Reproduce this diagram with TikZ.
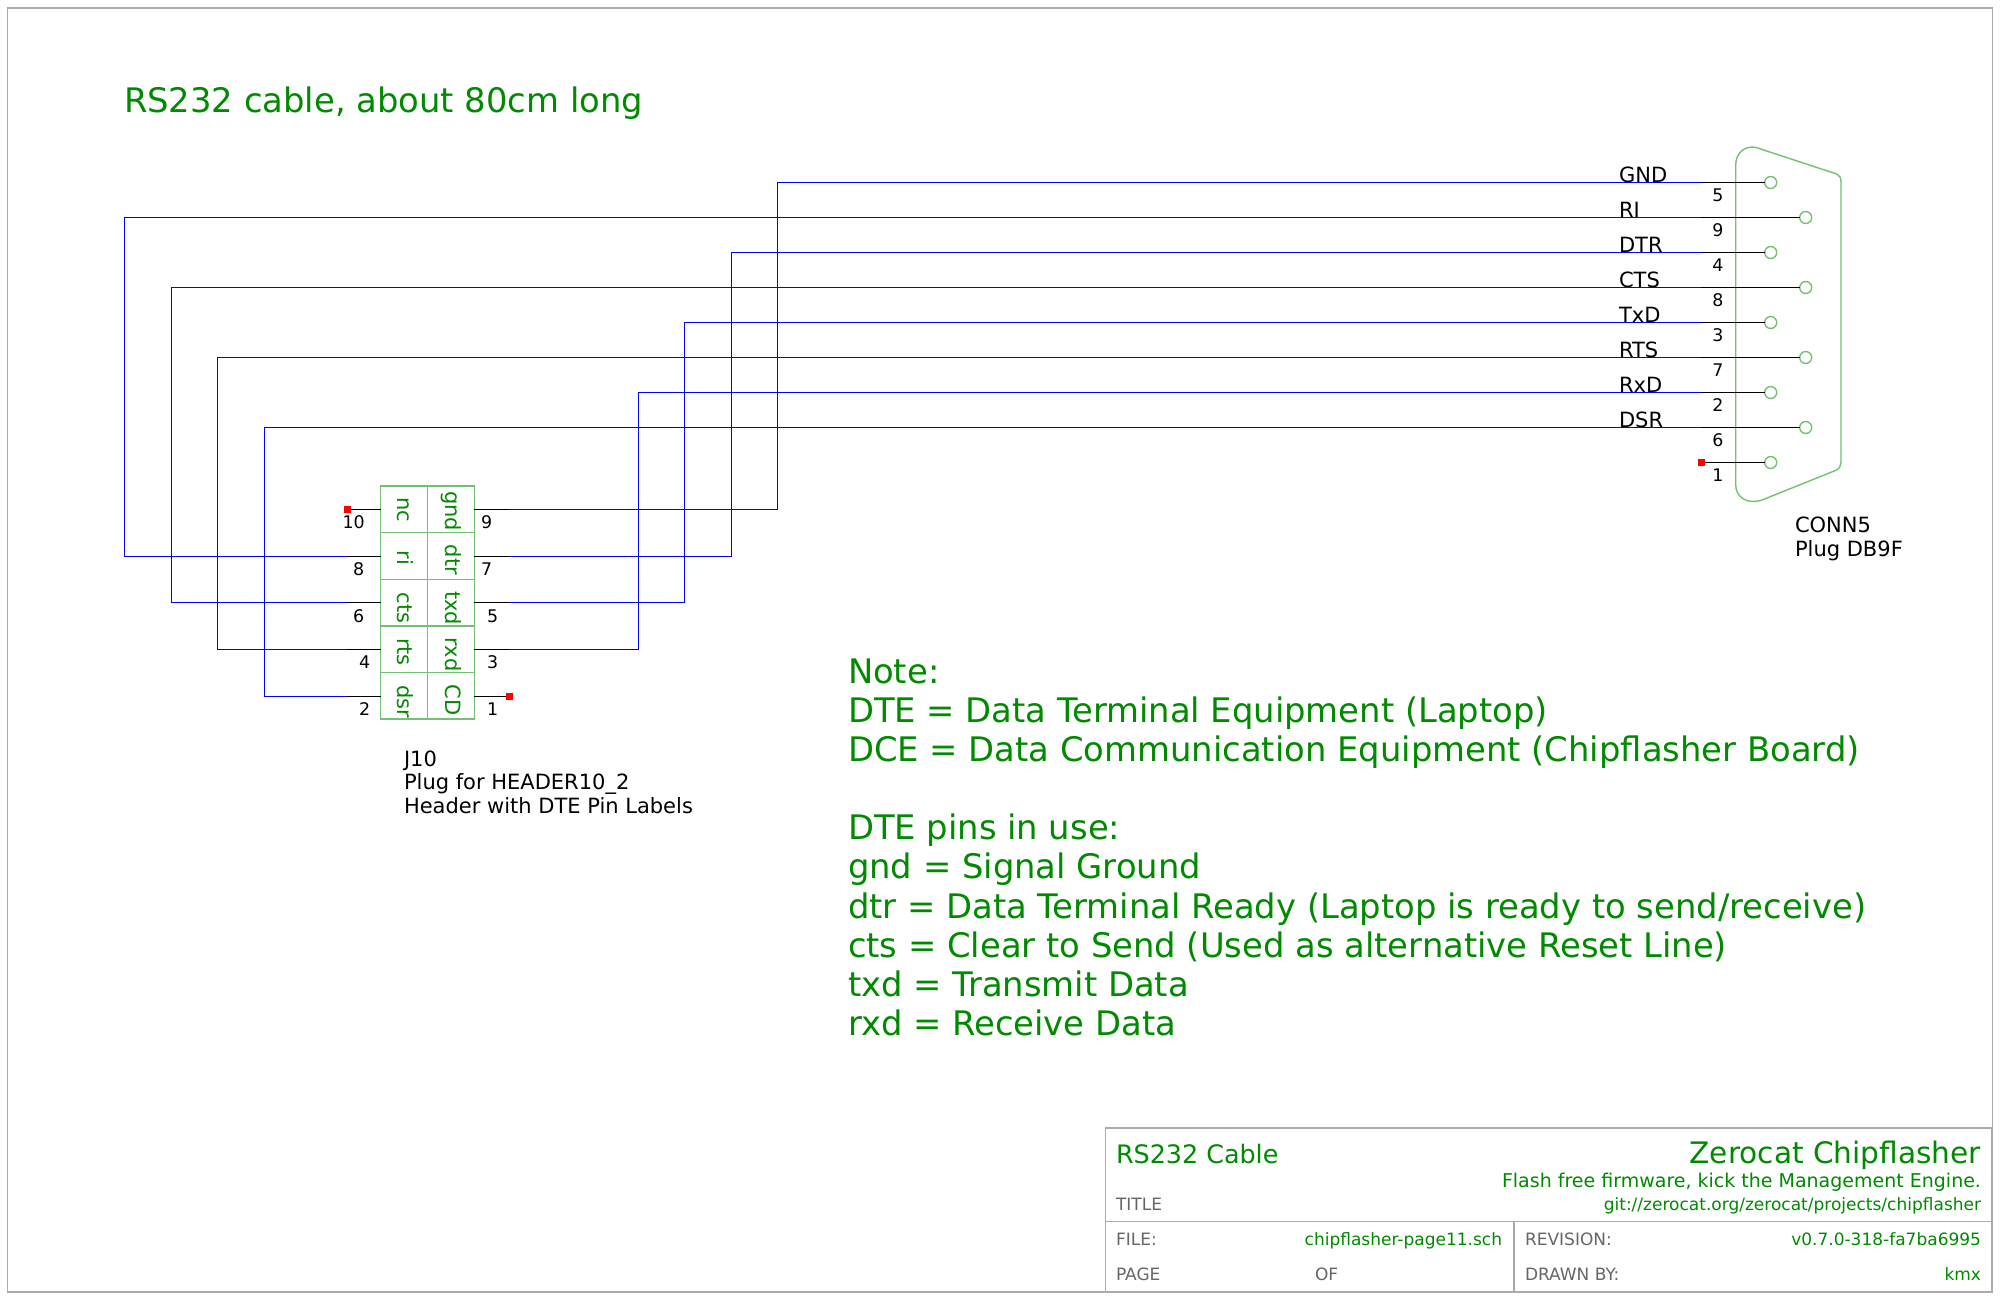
\documentclass[tikz,border=0pt]{standalone}
\usepackage{fontspec}
\setmainfont{DejaVu Sans}
\definecolor{txtgreen}{HTML}{008A00}
\definecolor{symgreen}{HTML}{74C074}
\definecolor{framegray}{HTML}{ABABAB}
\definecolor{tbgray}{HTML}{666666}
\newcommand{\fsz}[1]{\fontsize{#1}{#1}\selectfont}
\tikzset{
  x=1pt,y=-1pt,
  txt/.style={inner sep=0,outer sep=0,anchor=base west},
  wire/.style={draw=blue,line width=1.5pt},
  pinline/.style={draw=black,line width=1.3pt},
  sym/.style={draw=symgreen,line width=1.4pt},
  cell/.style={sym,rectangle,inner sep=0,outer sep=0,minimum width=46.7pt,minimum height=46.6pt},
  hole/.style={sym,circle,inner sep=0,outer sep=0,minimum size=12pt},
  nc/.style={fill=red,inner sep=0,outer sep=0,minimum size=7pt},
  pinnum/.style={txt,font=\fsz{17.4},text=black},
  siglabel/.style={txt,font=\fsz{21},text=black},
  celllabel/.style={inner sep=0,outer sep=0,anchor=base,rotate=-90,font=\fsz{21},text=txtgreen},
  tbline/.style={draw=framegray,line width=1.4pt},
  tbcap/.style={txt,font=\fsz{17},text=tbgray},
  tbval/.style={inner sep=0,outer sep=0,anchor=base east,font=\fsz{17},text=txtgreen},
}
\begin{document}
\begin{tikzpicture}
\useasboundingbox (0,0) rectangle (2000,1299);
\fill[white] (0,0) rectangle (2000,1299);
% sheet frame
\node[tbline,rectangle,inner sep=0,outer sep=0,minimum width=1985pt,minimum height=1284pt,anchor=north west] (frame) at (7.5,8) {};
% title block
\node[tbline,rectangle,inner sep=0,outer sep=0,minimum width=886pt,minimum height=164pt,anchor=north west] (tb) at (1105.7,1128) {};
\coordinate (tbL) at (1105.7,1221.7);
\coordinate (tbR) at (1991.7,1221.7);
\coordinate (tbM) at (1514,1221.7);
\coordinate (tbB) at (1514,1292);
\draw[tbline] (tbL) -- (tbR);
\draw[tbline] (tbM) -- (tbB);
\node[txt,font=\fsz{25.4},text=txtgreen] (tTitle) at (1116,1163) {RS232 Cable};
\node[txt,font=\fsz{29.6},text=txtgreen,anchor=base east] (tCo) at (1981,1163) {Zerocat Chipflasher};
\node[tbval,font=\fsz{19}] (tFl) at (1981,1187) {Flash free firmware, kick the Management Engine.};
\node[tbval] (tGit) at (1981,1210) {git://zerocat.org/zerocat/projects/chipflasher};
\node[tbcap] (tT) at (1116,1210) {TITLE};
\node[tbcap] (tF) at (1116,1245) {FILE:};
\node[tbval] (tFv) at (1502,1245) {chipflasher-page11.sch};
\node[tbcap] (tP) at (1116,1280) {PAGE};
\node[tbcap] (tO) at (1315,1280) {OF};
\node[tbcap] (tR) at (1525,1245) {REVISION:};
\node[tbval] (tRv) at (1981,1245) {v0.7.0-318-fa7ba6995};
\node[tbcap] (tD) at (1525,1280) {DRAWN BY:};
\node[tbval] (tDv) at (1981,1280) {kmx};
% big notes
\node[txt,font=\fsz{33.8},text=txtgreen] (head) at (124,112.5) {RS232 cable, about 80cm long};
\node[inner sep=0,outer sep=0,anchor=north west,align=left,text=txtgreen,font=\fontsize{33.8}{39.15}\selectfont] (note) at (848,658.5) {Note:\\DTE = Data Terminal Equipment (Laptop)\\DCE = Data Communication Equipment (Chipflasher Board)\\[39.15pt]DTE pins in use:\\gnd = Signal Ground\\dtr = Data Terminal Ready (Laptop is ready to send/receive)\\cts = Clear to Send (Used as alternative Reset Line)\\txd = Transmit Data\\rxd = Receive Data};
% DB9 shell
\draw[sym] (1735.7,165) .. controls (1735.7,153) and (1745,145) .. (1756,147.5)
  -- (1836.7,174) .. controls (1839.5,175) and (1841,178) .. (1841,182)
  -- (1841,461.7) .. controls (1841,465) and (1839.5,468.5) .. (1836.7,470)
  -- (1762,500) .. controls (1747,505) and (1735.7,497) .. (1735.7,485) -- cycle;
% DB9 pins
\foreach \n/\y/\xc in {5/182.5/1770.7,9/217.5/1805.7,4/252.5/1770.7,8/287.5/1805.7,3/322.5/1770.7,7/357.5/1805.7,2/392.5/1770.7,6/427.5/1805.7,1/462.5/1770.7}{
  \node[hole] (D\n) at (\xc,\y) {};
  \coordinate (E\n) at (1701,\y);
  \draw[pinline] (E\n) -- (D\n.west);
  \node[pinnum,anchor=base] (N\n) at (1718,\y+19) {\n};
}
\node[nc] (Dnc) at (E1) {};
\foreach \n/\y/\t in {5/182.5/GND,9/217.5/RI,4/252.5/DTR,8/287.5/CTS,3/322.5/TxD,7/357.5/RTS,2/392.5/RxD,6/427.5/DSR}{
  \node[siglabel] (S\n) at (1619,\y) {\t};
}
% header cells
\foreach \r/\y/\p in {1/509.3/509.5,2/555.9/556.5,3/602.5/602.5,4/649.1/649.5,5/695.7/696.5}{
  \node[cell] (L\r) at (404,\y) {};
  \node[cell] (R\r) at (451,\y) {};
  \coordinate (PL\r) at (347,\p);
  \coordinate (PR\r) at (509,\p);
  \coordinate (AL\r) at (L\r.west |- PL\r);
  \coordinate (AR\r) at (R\r.east |- PR\r);
  \draw[pinline] (PL\r) -- (AL\r);
  \draw[pinline] (PR\r) -- (AR\r);
}
\node[nc] (ncL) at (PL1) {};
\node[nc] (ncR) at (PR5) {};
% cell labels
\foreach \x/\y/\t/\k in {397/510/nc/a,397/558/ri/b,397/608/cts/c,397/652/rts/d,397/702/dsr/e,445/511/gnd/f,445/560/dtr/g,445/608/txd/h,445/654.5/rxd/i,445/700/CD/j}{
  \node[celllabel] (c\k) at (\x,\y) {\t};
}
% header pin numbers
\foreach \x/\y/\t/\k in {342.5/528/10/a,353/575/8/b,353/622/6/c,359/668/4/d,359/715/2/e,481/528/9/f,481/575/7/g,487/622/5/h,487/668/3/i,487/715/1/j}{
  \node[pinnum] (h\k) at (\x,\y) {\t};
}
% wires
\coordinate (w1) at (777.5,509.5);
\coordinate (w2) at (731.5,556.5);
\coordinate (w3) at (684.5,602.5);
\coordinate (w4) at (638.5,649.5);
\coordinate (w5) at (124.5,556.5);
\coordinate (w6) at (171.5,602.5);
\coordinate (w7) at (217.5,649.5);
\coordinate (w8) at (264.5,696.5);
\draw[wire] (PR1) -- (w1) |- (E5);
\draw[wire] (PR2) -- (w2) |- (E4);
\draw[wire] (PR3) -- (w3) |- (E3);
\draw[wire] (PR4) -- (w4) |- (E2);
\draw[wire] (PL2) -- (w5) |- (E9);
\draw[wire] (PL3) -- (w6) |- (E8);
\draw[wire] (PL4) -- (w7) |- (E7);
\draw[wire] (PL5) -- (w8) |- (E6);
% annotations
\node[txt,font=\fontsize{21}{23.3}\selectfont,align=left] (j10) at (404,813) {J10\\Plug for HEADER10\_2\\Header with DTE Pin Labels};
\node[txt,font=\fontsize{21}{23.3}\selectfont,align=left] (conn) at (1795,556) {CONN5\\Plug DB9F};
\end{tikzpicture}
\end{document}
